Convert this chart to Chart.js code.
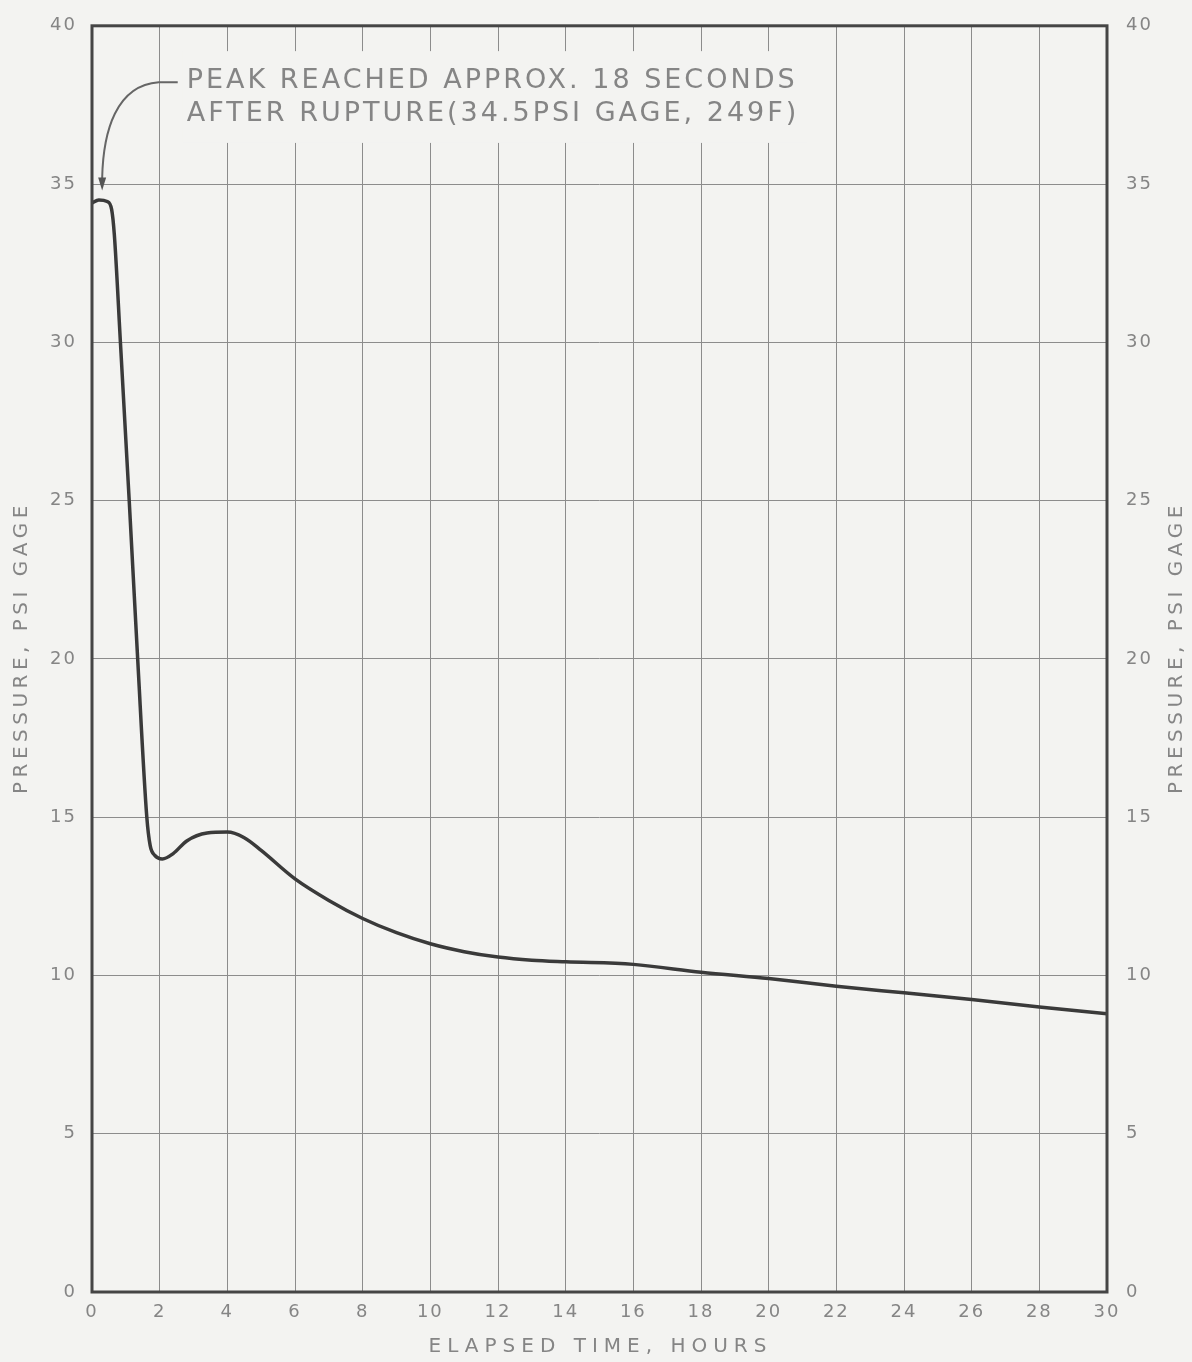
<!DOCTYPE html>
<html>
<head>
<meta charset="utf-8">
<script src="https://cdn.jsdelivr.net/npm/chart.js@4.4.0/dist/chart.umd.min.js"></script>
<style>
  html, body { margin: 0; padding: 0; background: #f3f3f1; }
  #wrap { width: 1192px; height: 1362px; }
</style>
</head>
<body>
<div id="wrap"><canvas id="c"></canvas></div>
<script>
// elapsed time (hours) and containment pressure (psi gage)
var hours    = [0, 0.2, 0.45, 0.58, 0.66, 0.84, 1.1, 1.35, 1.62, 1.72, 1.85, 2.08, 2.4, 2.8, 3.4, 4.0, 4.5, 5.0, 6.0, 7.0, 8.0, 9.0, 10.0, 11.0, 12.0, 13.0, 14.0, 16.0, 18.0, 20.0, 22.0, 24.0, 26.0, 28.0, 30.0];
var pressure = [34.4, 34.5, 34.45, 34.2, 33.4, 30.0, 25.0, 20.0, 15.0, 14.1, 13.8, 13.68, 13.85, 14.25, 14.5, 14.53, 14.35, 13.95, 13.05, 12.37, 11.8, 11.35, 11.0, 10.75, 10.58, 10.48, 10.43, 10.35, 10.1, 9.9, 9.66, 9.45, 9.24, 9.0, 8.79];

var xTicks = [0, 2, 4, 6, 8, 10, 12, 14, 16, 18, 20, 22, 24, 26, 28, 30];
var yTicks = [0, 5, 10, 15, 20, 25, 30, 35, 40];

var xTitle = 'ELAPSED TIME, HOURS';
var yTitle = 'PRESSURE, PSI GAGE';
var noteLines = ['PEAK REACHED APPROX. 18 SECONDS', 'AFTER RUPTURE(34.5PSI GAGE, 249F)'];
var noteAt = { x: 2.8, y1: 38.25, y2: 37.2 };   // where the note text sits (data units)
var arrowTip = { x: 0.3, y: 34.8 };

var ink = '#3a3a3a';
var grey = '#858585';
var font = 'DejaVu Sans';

var points = hours.map(function (h, i) { return { x: h, y: pressure[i] }; });

function spaced(ctx, text, x, y, rot, spacing, size) {
  ctx.save();
  ctx.translate(x, y);
  ctx.rotate(rot);
  ctx.letterSpacing = spacing + 'px';
  ctx.font = size + 'px "' + font + '"';
  ctx.fillStyle = grey;
  ctx.textAlign = 'center';
  ctx.textBaseline = 'middle';
  ctx.fillText(text, spacing / 2, 0);
  ctx.restore();
}

var frame = {
  id: 'frame',
  beforeDraw: function (chart) {
    chart.ctx.letterSpacing = '2px';
  },
  beforeDatasetsDraw: function (chart) {
    // paper showing through the grid behind the note
    var ctx = chart.ctx, xs = chart.scales.x, ys = chart.scales.y;
    ctx.save();
    ctx.fillStyle = '#f3f3f1';
    var l = xs.getPixelForValue(noteAt.x) - 4;
    ctx.fillRect(l, ys.getPixelForValue(39.2), 625, ys.getPixelForValue(36.3) - ys.getPixelForValue(39.2));
    ctx.restore();
  },
  afterDraw: function (chart) {
    var ctx = chart.ctx, a = chart.chartArea, xs = chart.scales.x, ys = chart.scales.y;
    ctx.save();
    ctx.strokeStyle = '#454545';
    ctx.lineWidth = 3;
    ctx.strokeRect(a.left, a.top, a.right - a.left, a.bottom - a.top);

    // axis titles
    var midY = (a.top + a.bottom) / 2 - 9;
    spaced(ctx, xTitle, (a.left + a.right) / 2 - 2, 1347, 0, 6, 20);
    spaced(ctx, yTitle, 22, midY, -Math.PI / 2, 4.5, 20);
    spaced(ctx, yTitle, 1177, midY, -Math.PI / 2, 4.5, 20);

    // note text
    ctx.letterSpacing = '3px';
    ctx.fillStyle = grey;
    ctx.font = '27px "' + font + '"';
    ctx.textBaseline = 'middle';
    ctx.textAlign = 'left';
    var tx = xs.getPixelForValue(noteAt.x);
    ctx.fillText(noteLines[0], tx, ys.getPixelForValue(noteAt.y1));
    ctx.fillText(noteLines[1], tx, ys.getPixelForValue(noteAt.y2));

    // leader arrow
    var px = xs.getPixelForValue(arrowTip.x), py = ys.getPixelForValue(arrowTip.y);
    var sy = ys.getPixelForValue(noteAt.y1);
    ctx.strokeStyle = '#666';
    ctx.lineWidth = 2;
    ctx.beginPath();
    ctx.moveTo(tx - 9, sy + 1);
    ctx.lineTo(tx - 28, sy + 1);
    ctx.bezierCurveTo(px + 14, sy + 4, px + 1, sy + 50, px, py - 12);
    ctx.stroke();
    ctx.fillStyle = '#555';
    ctx.beginPath();
    ctx.moveTo(px, py);
    ctx.lineTo(px - 4, py - 13);
    ctx.lineTo(px + 4, py - 13);
    ctx.closePath();
    ctx.fill();
    ctx.restore();
  }
};

new Chart(document.getElementById('c'), {
  type: 'line',
  data: {
    datasets: [{
      data: points,
      borderColor: ink,
      borderWidth: 3.5,
      pointRadius: 0,
      cubicInterpolationMode: 'monotone',
      fill: false
    }]
  },
  options: {
    responsive: true,
    maintainAspectRatio: false,
    animation: false,
    layout: { padding: { top: 22, left: 0, right: 0, bottom: 0 } },
    plugins: { legend: { display: false }, tooltip: { enabled: false } },
    scales: {
      x: {
        type: 'linear',
        min: 0, max: 30,
        afterBuildTicks: function (s) { s.ticks = xTicks.map(function (v) { return { value: v }; }); },
        afterFit: function (s) { s.height = 70; },
        ticks: { color: grey, padding: 10, font: { family: font, size: 18 } },
        grid: { color: '#8c8c8c', lineWidth: 1, drawTicks: false },
        border: { display: false }
      },
      y: {
        position: 'left',
        min: 0, max: 40,
        afterBuildTicks: function (s) { s.ticks = yTicks.map(function (v) { return { value: v }; }); },
        afterFit: function (s) { s.width = 92; },
        ticks: { color: grey, padding: 15, font: { family: font, size: 18 } },
        grid: { color: '#8c8c8c', lineWidth: 1, drawTicks: false },
        border: { display: false }
      },
      y2: {
        position: 'right',
        min: 0, max: 40,
        afterBuildTicks: function (s) { s.ticks = yTicks.map(function (v) { return { value: v }; }); },
        afterFit: function (s) { s.width = 85; },
        ticks: { color: grey, padding: 11, font: { family: font, size: 18 } },
        grid: { display: false },
        border: { display: false }
      }
    }
  },
  plugins: [frame]
});
</script>
</body>
</html>
